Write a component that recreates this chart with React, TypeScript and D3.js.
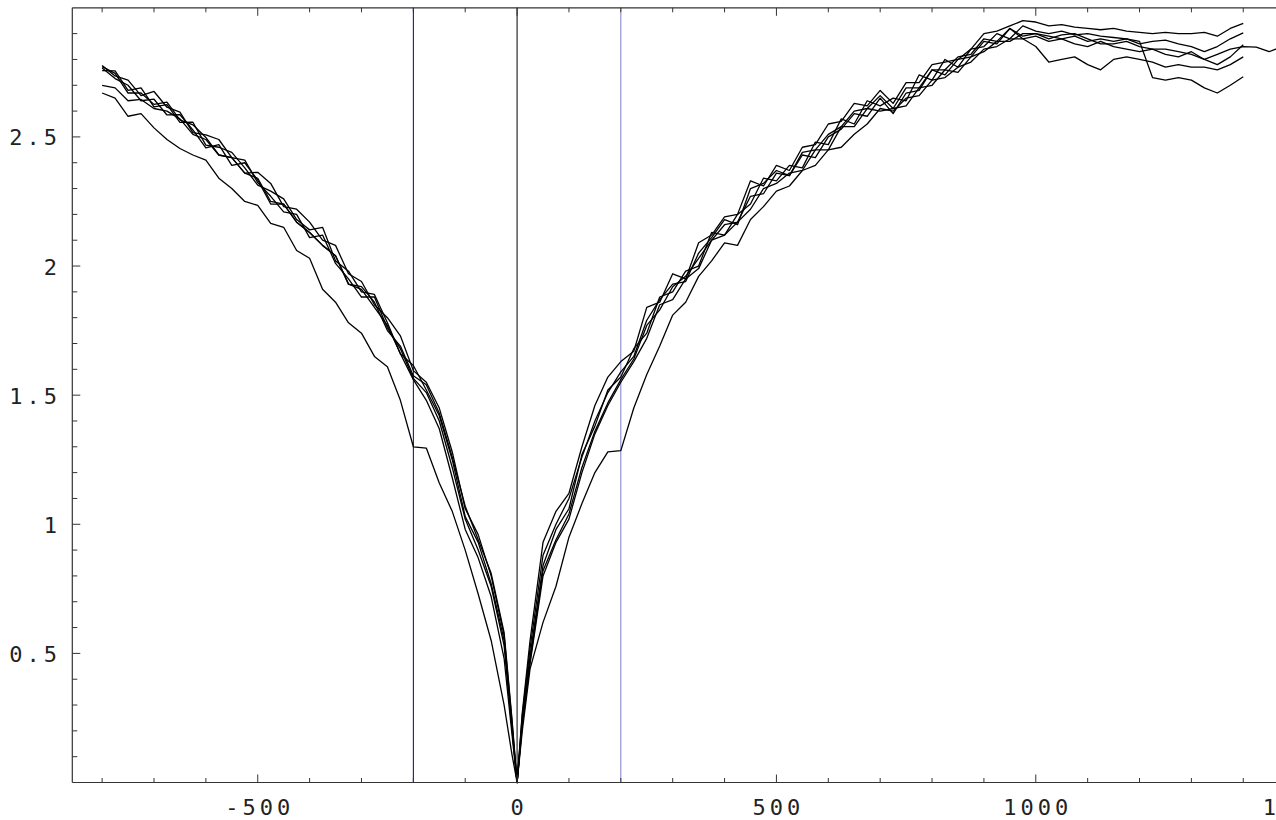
import React from "react";
import * as d3 from "d3";

// x grid, left branch (t < 0) and right branch (t > 0); every curve passes through (0, 0)
const XL = [-800, -775, -750, -725, -700, -675, -650, -625, -600, -575, -550, -525, -500, -475, -450, -425, -400, -375, -350, -325, -300, -275, -250, -225, -200, -175, -150, -125, -100, -75, -50, -25, -10];
const XR = [10, 25, 50, 75, 100, 125, 150, 175, 200, 225, 250, 275, 300, 325, 350, 375, 400, 425, 450, 475, 500, 525, 550, 575, 600, 625, 650, 675, 700, 725, 750, 775, 800, 825, 850, 875, 900, 925, 950, 975, 1000, 1025, 1050, 1075, 1100, 1125, 1150, 1175, 1200, 1225, 1250, 1275, 1300, 1325, 1350, 1375, 1400, 1425, 1450, 1475, 1500];

const S1L = [2.777, 2.736, 2.72, 2.66, 2.676, 2.615, 2.596, 2.517, 2.508, 2.49, 2.42, 2.36, 2.363, 2.32, 2.23, 2.22, 2.17, 2.10, 2.08, 1.97, 1.94, 1.85, 1.80, 1.73, 1.595, 1.55, 1.45, 1.28, 1.06, 0.96, 0.80, 0.57, 0.24];
const S2L = [2.757, 2.756, 2.68, 2.69, 2.616, 2.625, 2.556, 2.557, 2.468, 2.46, 2.44, 2.38, 2.313, 2.29, 2.26, 2.18, 2.14, 2.15, 2.02, 1.98, 1.90, 1.89, 1.78, 1.66, 1.615, 1.52, 1.42, 1.25, 1.03, 0.93, 0.77, 0.55, 0.22];
const S3L = [2.767, 2.726, 2.70, 2.64, 2.646, 2.585, 2.586, 2.527, 2.458, 2.47, 2.39, 2.40, 2.333, 2.24, 2.24, 2.17, 2.13, 2.08, 2.04, 1.93, 1.92, 1.86, 1.75, 1.69, 1.575, 1.54, 1.43, 1.26, 1.07, 0.94, 0.81, 0.58, 0.25];
const S4L = [2.772, 2.746, 2.67, 2.67, 2.626, 2.635, 2.566, 2.547, 2.498, 2.43, 2.42, 2.41, 2.323, 2.27, 2.21, 2.20, 2.11, 2.12, 2.01, 1.95, 1.88, 1.88, 1.76, 1.68, 1.565, 1.51, 1.40, 1.22, 1.02, 0.90, 0.76, 0.53, 0.21];
const S5L = [2.70, 2.69, 2.64, 2.645, 2.61, 2.60, 2.57, 2.51, 2.49, 2.43, 2.42, 2.36, 2.34, 2.25, 2.24, 2.17, 2.13, 2.08, 2.04, 1.93, 1.91, 1.84, 1.77, 1.66, 1.56, 1.48, 1.37, 1.18, 0.98, 0.87, 0.72, 0.48, 0.19];
const S6L = [2.67, 2.65, 2.58, 2.59, 2.535, 2.49, 2.455, 2.43, 2.41, 2.34, 2.30, 2.25, 2.235, 2.165, 2.15, 2.06, 2.03, 1.91, 1.86, 1.78, 1.74, 1.65, 1.61, 1.48, 1.30, 1.295, 1.16, 1.05, 0.90, 0.73, 0.55, 0.30, 0.11];

const S1R = [0.27, 0.55, 0.93, 1.05, 1.12, 1.30, 1.46, 1.57, 1.63, 1.67, 1.84, 1.86, 1.97, 1.95, 2.09, 2.12, 2.19, 2.20, 2.33, 2.31, 2.39, 2.37, 2.46, 2.47, 2.55, 2.56, 2.63, 2.62, 2.68, 2.63, 2.71, 2.71, 2.78, 2.79, 2.80, 2.84, 2.90, 2.91, 2.93, 2.95, 2.945, 2.93, 2.935, 2.925, 2.92, 2.915, 2.92, 2.91, 2.905, 2.90, 2.905, 2.90, 2.90, 2.905, 2.89, 2.92, 2.94];
const S2R = [0.24, 0.49, 0.84, 0.98, 1.06, 1.27, 1.38, 1.52, 1.57, 1.68, 1.74, 1.88, 1.90, 1.98, 2.00, 2.13, 2.12, 2.20, 2.24, 2.34, 2.33, 2.39, 2.38, 2.48, 2.47, 2.57, 2.55, 2.64, 2.62, 2.65, 2.64, 2.74, 2.72, 2.80, 2.77, 2.84, 2.85, 2.90, 2.88, 2.93, 2.91, 2.90, 2.91, 2.895, 2.90, 2.89, 2.885, 2.88, 2.86, 2.87, 2.875, 2.86, 2.85, 2.83, 2.85, 2.88, 2.903];
const S3R = [0.23, 0.47, 0.82, 0.94, 1.04, 1.22, 1.36, 1.47, 1.56, 1.64, 1.77, 1.83, 1.92, 1.96, 2.03, 2.10, 2.16, 2.17, 2.27, 2.28, 2.36, 2.35, 2.43, 2.42, 2.50, 2.53, 2.59, 2.58, 2.65, 2.59, 2.67, 2.68, 2.76, 2.74, 2.80, 2.81, 2.87, 2.86, 2.92, 2.89, 2.90, 2.88, 2.895, 2.90, 2.88, 2.86, 2.86, 2.87, 2.85, 2.84, 2.84, 2.83, 2.82, 2.80, 2.78, 2.81, 2.857];
const S4R = [0.26, 0.52, 0.88, 1.00, 1.10, 1.26, 1.40, 1.51, 1.59, 1.65, 1.79, 1.87, 1.93, 1.94, 2.05, 2.11, 2.18, 2.16, 2.30, 2.32, 2.37, 2.35, 2.44, 2.45, 2.51, 2.54, 2.60, 2.61, 2.66, 2.61, 2.69, 2.69, 2.76, 2.76, 2.81, 2.82, 2.88, 2.87, 2.92, 2.88, 2.85, 2.79, 2.80, 2.81, 2.78, 2.76, 2.80, 2.81, 2.80, 2.79, 2.77, 2.78, 2.77, 2.77, 2.76, 2.78, 2.81];
const S5R = [0.22, 0.46, 0.80, 0.93, 1.02, 1.20, 1.35, 1.46, 1.55, 1.63, 1.72, 1.85, 1.87, 1.95, 1.99, 2.10, 2.12, 2.17, 2.22, 2.30, 2.32, 2.36, 2.37, 2.45, 2.45, 2.54, 2.54, 2.61, 2.60, 2.61, 2.62, 2.69, 2.70, 2.76, 2.75, 2.81, 2.83, 2.87, 2.87, 2.90, 2.90, 2.89, 2.88, 2.89, 2.87, 2.88, 2.87, 2.88, 2.87, 2.73, 2.72, 2.73, 2.72, 2.69, 2.67, 2.70, 2.733];
const S6R = [0.20, 0.44, 0.62, 0.76, 0.95, 1.08, 1.20, 1.28, 1.285, 1.45, 1.58, 1.69, 1.81, 1.86, 1.96, 2.02, 2.09, 2.08, 2.18, 2.23, 2.29, 2.31, 2.37, 2.39, 2.45, 2.46, 2.51, 2.55, 2.61, 2.60, 2.65, 2.66, 2.72, 2.73, 2.77, 2.79, 2.84, 2.85, 2.88, 2.88, 2.89, 2.87, 2.88, 2.86, 2.85, 2.87, 2.85, 2.84, 2.83, 2.84, 2.82, 2.81, 2.83, 2.80, 2.82, 2.84, 2.85, 2.848, 2.83, 2.85, 2.84];

const LEFT = [S1L, S2L, S3L, S4L, S5L, S6L];
const RIGHT = [S1R, S2R, S3R, S4R, S5R, S6R];

const X_TICKS = [-500, 0, 500, 1000, 1500];
const Y_TICKS = [0.5, 1, 1.5, 2, 2.5];
const X_MINOR = [-800, -700, -600, -500, -400, -300, -200, -100, 0, 100, 200, 300, 400, 500, 600, 700, 800, 900, 1000, 1100, 1200, 1300, 1400, 1500];
const Y_MINOR = [0.1, 0.2, 0.3, 0.4, 0.5, 0.6, 0.7, 0.8, 0.9, 1, 1.1, 1.2, 1.3, 1.4, 1.5, 1.6, 1.7, 1.8, 1.9, 2, 2.1, 2.2, 2.3, 2.4, 2.5, 2.6, 2.7, 2.8, 2.9];

// reference lines: [x, colour]
const REF_LINES: [number, string][] = [
  [-200, "#000080"],
  [0, "#000000"],
  [200, "#7c7cc8"],
];

const W = 1276;
const H = 820;

export default function App() {
  const x = d3.scaleLinear().domain([-857.5, 1557.5]).range([72.3, 72.3 + 2415 * 0.5187]);
  const y = d3.scaleLinear().domain([0, 3]).range([782.5, 7.8]);
  const line = d3
    .line<[number, number]>()
    .x((d) => x(d[0]))
    .y((d) => y(d[1]));

  const series = LEFT.map((l, i) => {
    const pts: [number, number][] = [];
    l.forEach((v, j) => pts.push([XL[j], v]));
    pts.push([0, 0]);
    RIGHT[i].forEach((v, j) => pts.push([XR[j], v]));
    return pts;
  });

  const left = x.range()[0];
  const right = x.range()[1];
  const top = y.range()[1];
  const bottom = y.range()[0];
  const axisColor = "#333";
  const font = "'DejaVu Sans Mono', monospace";

  return (
    <div style={{ position: "absolute", left: 0, top: 0 }}>
      <svg width={W} height={H} style={{ display: "block", background: "#fff" }}>
        {REF_LINES.map(([v, c]) => (
          <line key={v} x1={x(v)} x2={x(v)} y1={top} y2={bottom} stroke={c} strokeWidth={1} />
        ))}
        {series.map((pts, i) => (
          <path key={i} d={line(pts) || ""} fill="none" stroke="#000" strokeWidth={1.3} strokeLinejoin="round" />
        ))}
        {/* frame */}
        <line x1={left} x2={left} y1={top} y2={bottom} stroke={axisColor} strokeWidth={1.2} />
        <line x1={left} x2={right} y1={bottom} y2={bottom} stroke={axisColor} strokeWidth={1.2} />
        <line x1={left} x2={right} y1={top} y2={top} stroke={axisColor} strokeWidth={1.2} />
        <line x1={right} x2={right} y1={top} y2={bottom} stroke={axisColor} strokeWidth={1.2} />
        {X_MINOR.map((v) => {
          const major = X_TICKS.includes(v);
          const len = major ? 8 : 4.5;
          return (
            <g key={"xt" + v}>
              <line x1={x(v)} x2={x(v)} y1={bottom} y2={bottom - len} stroke={axisColor} strokeWidth={1} />
              <line x1={x(v)} x2={x(v)} y1={top} y2={top + len} stroke={axisColor} strokeWidth={1} />
            </g>
          );
        })}
        {Y_MINOR.map((v) => {
          const major = Y_TICKS.some((t) => Math.abs(t - v) < 1e-9);
          const len = major ? 8 : 5;
          return <line key={"yt" + v} x1={left} x2={left + len} y1={y(v)} y2={y(v)} stroke={axisColor} strokeWidth={1} />;
        })}
        {X_TICKS.map((v) => (
          <text key={"xl" + v} x={x(v) + 2} y={815} textAnchor="middle" fontFamily={font} fontSize={22} letterSpacing={4} fill="#222">
            {String(v)}
          </text>
        ))}
        {Y_TICKS.map((v) => (
          <text key={"yl" + v} x={61} y={y(v) + 8.5} textAnchor="end" fontFamily={font} fontSize={22} letterSpacing={4} fill="#222">
            {String(v)}
          </text>
        ))}
      </svg>
    </div>
  );
}
